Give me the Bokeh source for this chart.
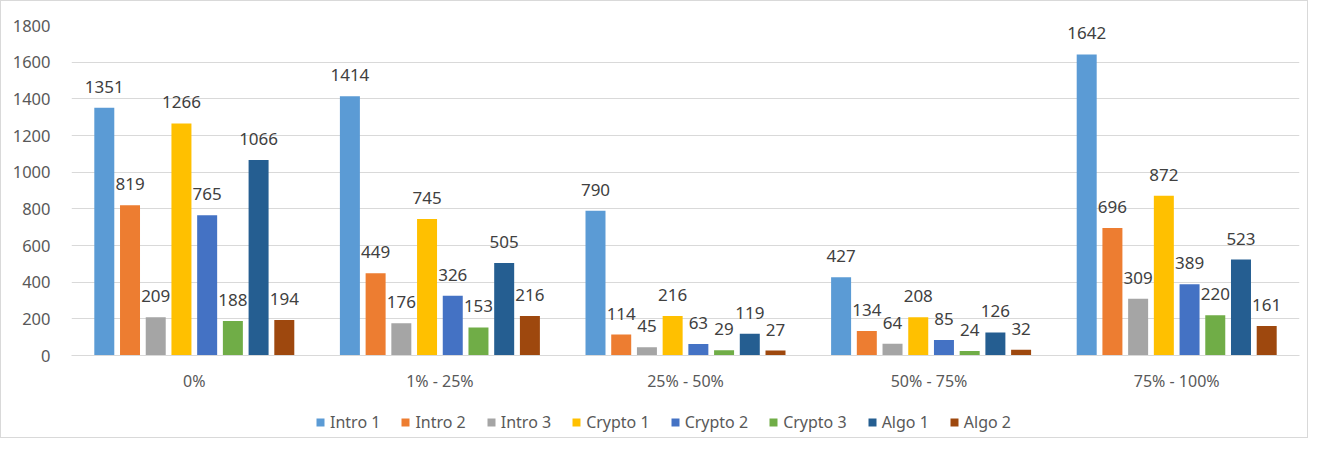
from bokeh.plotting import figure
from bokeh.layouts import column
from bokeh.models import FactorRange, Legend, LegendItem, ColumnDataSource, SingleIntervalTicker, Range1d
from bokeh.transform import dodge
from bokeh.embed import file_html
from bokeh.resources import INLINE
from bokeh.core.properties import value

categories = ["0%", "1% - 25%", "25% - 50%", "50% -  75%", "75% - 100%"]
series = ["Intro 1", "Intro 2", "Intro 3", "Crypto 1", "Crypto 2", "Crypto 3", "Algo 1", "Algo 2"]
intro1 = [1351, 1414, 790, 427, 1642]
intro2 = [819, 449, 114, 134, 696]
intro3 = [209, 176, 45, 64, 309]
crypto1 = [1266, 745, 216, 208, 872]
crypto2 = [765, 326, 63, 85, 389]
crypto3 = [188, 153, 29, 24, 220]
algo1 = [1066, 505, 119, 126, 523]
algo2 = [194, 216, 27, 32, 161]
values = [intro1, intro2, intro3, crypto1, crypto2, crypto3, algo1, algo2]
colors = ["#5B9BD5", "#ED7D31", "#A5A5A5", "#FFC000", "#4472C4", "#70AD47", "#255E91", "#9E480E"]

FONT = "Noto Sans"

p = figure(width=1306, height=400, x_range=FactorRange(*categories), y_range=(0, 1800),
           output_backend="svg", toolbar_location=None,
           min_border_left=70, min_border_right=8, min_border_top=24, min_border_bottom=46)
p.outline_line_color = None
p.background_fill_color = "white"

step = 0.1047
width = 0.0814
sources = []
for i, (name, vals, col) in enumerate(zip(series, values, colors)):
    src = ColumnDataSource(dict(cat=categories, v=vals, lab=[str(x) for x in vals]))
    sources.append(src)
    off = (i - 3.5) * step
    p.vbar(x=dodge("cat", off, range=p.x_range), top="v", width=width, source=src,
           fill_color=col, line_color=None)
    p.text(x=dodge("cat", off, range=p.x_range), y="v", text="lab", source=src,
           text_align="center", text_baseline="alphabetic", y_offset=-21,
           text_font=value(FONT), text_font_size="17px", text_color="#404040")

p.yaxis.ticker = SingleIntervalTicker(interval=200)
p.yaxis.axis_line_color = None
p.yaxis.major_tick_line_color = None
p.yaxis.minor_tick_line_color = None
p.yaxis.major_tick_out = 0
p.yaxis.major_tick_in = 0
p.yaxis.major_label_text_font = FONT
p.yaxis.major_label_text_font_size = "16.5px"
p.yaxis.major_label_text_color = "#595959"
p.yaxis.major_label_standoff = 17

p.xaxis.axis_line_color = "#d9d9d9"
p.xaxis.major_tick_line_color = None
p.xaxis.minor_tick_line_color = None
p.xaxis.major_tick_out = 0
p.xaxis.major_tick_in = 0
p.xaxis.major_label_text_font = FONT
p.xaxis.major_label_text_font_size = "16px"
p.xaxis.major_label_text_color = "#595959"
p.xaxis.major_label_standoff = 14

p.xgrid.grid_line_color = None
p.ygrid.grid_line_color = "#d9d9d9"

# legend strip below the chart (its renderers are hidden; only the legend shows)
q = figure(width=1306, height=36, x_range=FactorRange(*categories), y_range=Range1d(-2, -1),
           output_backend="svg", toolbar_location=None,
           min_border_left=0, min_border_right=0, min_border_top=0, min_border_bottom=0)
q.axis.visible = False
q.grid.visible = False
q.outline_line_color = None
items = []
for i, (name, col, src) in enumerate(zip(series, colors, sources)):
    r = q.vbar(x=dodge("cat", (i - 3.5) * step, range=q.x_range), top="v", width=width,
               source=src, fill_color=col, line_color=None, visible=False)
    items.append(LegendItem(label=name, renderers=[r]))
legend = Legend(items=items, orientation="horizontal", location=(244, 4),
                label_text_font=FONT, label_text_font_size="16px", label_text_color="#595959",
                glyph_width=10, glyph_height=10, spacing=20, label_standoff=5,
                label_height=22, border_line_color=None, background_fill_alpha=0,
                inactive_fill_alpha=0, margin=0, padding=0)
q.add_layout(legend, "center")

layout = column(p, q, spacing=0, styles={"border": "1px solid #d9d9d9"})

open("out.html", "w").write(file_html(layout, INLINE))
